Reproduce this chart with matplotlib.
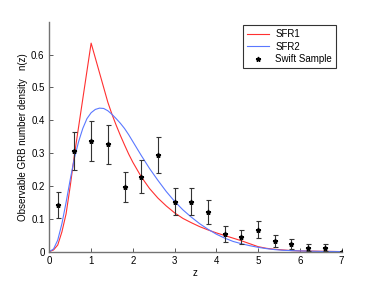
import numpy as np
import matplotlib.pyplot as plt

# model curves
z_sfr1 = [0, 0.1, 0.2, 0.3, 0.4, 0.5, 0.6, 0.7, 0.8, 0.9, 1.0, 1.1, 1.2, 1.3, 1.4, 1.5,
          1.6, 1.7, 1.8, 1.9, 2.0, 2.2, 2.4, 2.6, 2.8, 3.0, 3.2, 3.4, 3.6, 3.8, 4.0,
          4.2, 4.4, 4.6, 4.8, 5.0, 5.2, 5.4, 5.6, 5.8, 6.0, 6.5, 7.0]
n_sfr1 = [0, 0.005, 0.02, 0.06, 0.115, 0.2, 0.295, 0.38, 0.465, 0.55, 0.635, 0.59, 0.545,
          0.5, 0.455, 0.418, 0.385, 0.354, 0.325, 0.297, 0.272, 0.228, 0.192, 0.163,
          0.139, 0.118, 0.101, 0.088, 0.076, 0.066, 0.057, 0.049, 0.041, 0.033, 0.024,
          0.015, 0.010, 0.007, 0.005, 0.003, 0.002, 0.001, 0]

z_sfr2 = [0, 0.1, 0.2, 0.3, 0.4, 0.5, 0.6, 0.7, 0.8, 0.9, 1.0, 1.1, 1.2, 1.3, 1.4, 1.5,
          1.6, 1.7, 1.8, 1.9, 2.0, 2.2, 2.4, 2.6, 2.8, 3.0, 3.2, 3.4, 3.6, 3.8, 4.0,
          4.2, 4.4, 4.6, 4.8, 5.0, 5.2, 5.4, 5.6, 5.8, 6.0, 6.5, 7.0]
n_sfr2 = [0, 0.008, 0.035, 0.085, 0.15, 0.22, 0.285, 0.335, 0.375, 0.405, 0.423, 0.433,
          0.437, 0.436, 0.429, 0.418, 0.405, 0.391, 0.375, 0.356, 0.335, 0.293, 0.253,
          0.217, 0.183, 0.153, 0.127, 0.105, 0.085, 0.068, 0.053, 0.041, 0.031, 0.024,
          0.018, 0.013, 0.009, 0.006, 0.004, 0.003, 0.002, 0.0005, 0]

# Swift sample
z_swift = [0.2, 0.6, 1.0, 1.4, 1.8, 2.2, 2.6, 3.0, 3.4, 3.8, 4.2, 4.6, 5.0, 5.4, 5.8, 6.2, 6.6, 7.0]
n_swift = [0.142, 0.306, 0.337, 0.327, 0.196, 0.228, 0.294, 0.152, 0.152, 0.120,
           0.054, 0.044, 0.066, 0.033, 0.022, 0.012, 0.012, 0.0]
err_swift = [0.04, 0.057, 0.06, 0.06, 0.045, 0.05, 0.056, 0.041, 0.041, 0.036,
             0.025, 0.022, 0.026, 0.018, 0.015, 0.01, 0.01, 0.0]

plt.rcParams['font.family'] = ['Liberation Sans', 'DejaVu Sans']

fig = plt.figure(figsize=(3.77, 2.83), dpi=100)
ax = fig.add_axes([0.131, 0.111, 0.775, 0.812])

ax.plot(z_sfr1, n_sfr1, color="#ff3030", lw=0.8, label="SFR1")
ax.plot(z_sfr2, n_sfr2, color="#5a78ff", lw=0.8, label="SFR2")
ax.errorbar(z_swift, n_swift, yerr=err_swift, fmt='none',
            ecolor='0.2', elinewidth=0.8, capsize=1.8, capthick=0.8)
ax.plot(z_swift, n_swift, '*', color='k', ms=3.5, ls='none', label="Swift Sample")

ax.set_xlim(0, 7)
ax.set_ylim(0, 0.7)
ax.set_xticks(range(8))
ax.set_yticks([0, 0.1, 0.2, 0.3, 0.4, 0.5, 0.6])
ax.set_yticklabels(['0', '0.1', '0.2', '0.3', '0.4', '0.5', '0.6'])
ax.tick_params(direction='in', labelsize=7, length=3, width=0.6, colors='0.25', labelcolor='k')
ax.spines['top'].set_visible(False)
ax.spines['right'].set_visible(False)
for s in ['left', 'bottom']:
    ax.spines[s].set_color('0.45')
    ax.spines[s].set_linewidth(1.0)

ax.set_xlabel("z", fontsize=7, labelpad=1)
ax.set_ylabel("Observable GRB number density   n(z)", fontsize=7, labelpad=2)

leg = ax.legend(loc='upper right', bbox_to_anchor=(0.98, 0.985), fontsize=7,
                frameon=True, fancybox=False, borderpad=0.4, labelspacing=0.25,
                handlelength=2.3, handletextpad=0.6, borderaxespad=0.0)
leg.get_frame().set_edgecolor('k')
leg.get_frame().set_linewidth(0.8)

fig.savefig("out.png", dpi=100)
